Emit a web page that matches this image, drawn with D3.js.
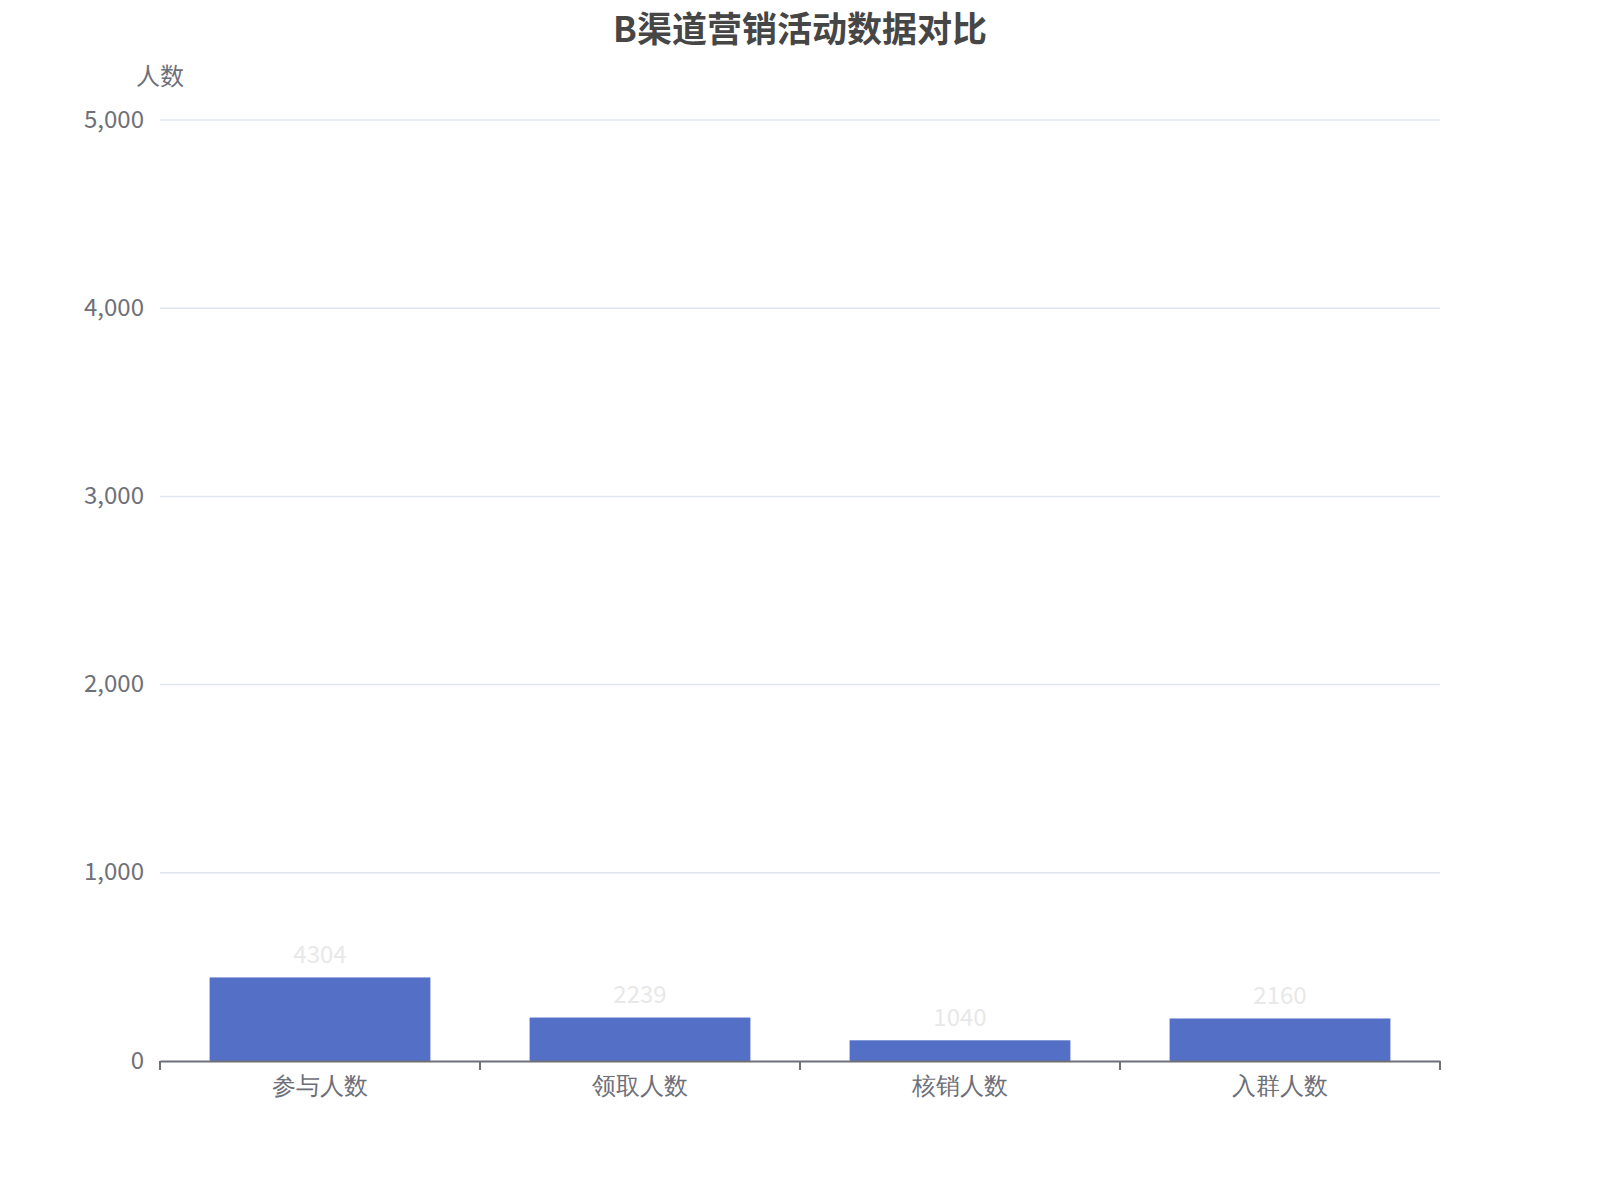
<!DOCTYPE html>
<html><head><meta charset="utf-8">
<script src="https://cdn.jsdelivr.net/npm/d3@7"></script>
<style>body{margin:0;background:#fff}svg{display:block;font-family:"Noto Sans CJK SC","Noto Sans",sans-serif}</style>
</head><body><svg id="c" width="1600" height="1200"></svg>
<script>
const title = "B渠道营销活动数据对比";
const yAxisName = "人数";
const categories = ["参与人数", "领取人数", "核销人数", "入群人数"];
const labelValues = [4304, 2239, 1040, 2160];
const barHeights = [444, 231, 110, 226];
const yTicks = [0, 1000, 2000, 3000, 4000, 5000];

const W = 1600, H = 1200;
const m = {left: 160, right: 160, top: 120, bottom: 139};
const svg = d3.select("#c");
const x = d3.scaleBand().domain(categories).range([m.left, W - m.right]).paddingInner(0.31).paddingOuter(0.155);
const xb = d3.scaleBand().domain(categories).range([m.left, W - m.right]);
const y = d3.scaleLinear().domain([0, 5000]).range([H - m.bottom, m.top]);

svg.append("text").attr("x", W/2).attr("y", 26).attr("text-anchor","middle").attr("dominant-baseline","central")
  .attr("font-size", 35).attr("font-weight","bold").attr("fill","#464646").text(title);

svg.append("g").selectAll("line").data(yTicks.filter(d=>d>0)).join("line")
  .attr("x1", m.left).attr("x2", W - m.right).attr("y1", d=>y(d)).attr("y2", d=>y(d))
  .attr("stroke","#E0E6F1").attr("stroke-width",1.5);

svg.append("g").selectAll("text").data(yTicks).join("text")
  .attr("x", m.left - 16).attr("y", d=>y(d) - 3).attr("text-anchor","end").attr("dominant-baseline","central")
  .attr("font-size", 24).attr("fill","#6E7079").text(d=>d3.format(",")(d));

svg.append("text").attr("x", m.left).attr("y", y(5000) - 46).attr("text-anchor","middle").attr("dominant-baseline","central")
  .attr("font-size", 24).attr("fill","#6E7079").text(yAxisName);

svg.append("g").selectAll("rect").data(categories).join("rect")
  .attr("x", d=>x(d)).attr("width", x.bandwidth())
  .attr("y", (d,i)=>y(barHeights[i])).attr("height", (d,i)=>y(0)-y(barHeights[i]))
  .attr("fill","#5470C6");

svg.append("g").selectAll("text").data(categories).join("text")
  .attr("x", d=>x(d)+x.bandwidth()/2).attr("y", (d,i)=>y(barHeights[i]) - 25)
  .attr("text-anchor","middle").attr("dominant-baseline","central")
  .attr("font-size", 24).attr("fill","#E8E8E8").text((d,i)=>labelValues[i]);

const xAxis = d3.axisBottom(xb).tickSize(0).tickSizeOuter(0);
const gx = svg.append("g").attr("transform", `translate(0,${y(0)})`).call(xAxis);
gx.select(".domain").attr("stroke","#6E7079").attr("stroke-width",2);
gx.selectAll("text").attr("font-size",24).attr("fill","#6E7079").attr("dy",0).attr("y",24).attr("dominant-baseline","central").attr("font-family",null);
const bounds = categories.map(c=>xb(c)).concat([W - m.right]);
gx.append("g").selectAll("line").data(bounds).join("line")
  .attr("x1",d=>d).attr("x2",d=>d).attr("y1",0).attr("y2",9).attr("stroke","#6E7079").attr("stroke-width",2);
</script></body></html>
